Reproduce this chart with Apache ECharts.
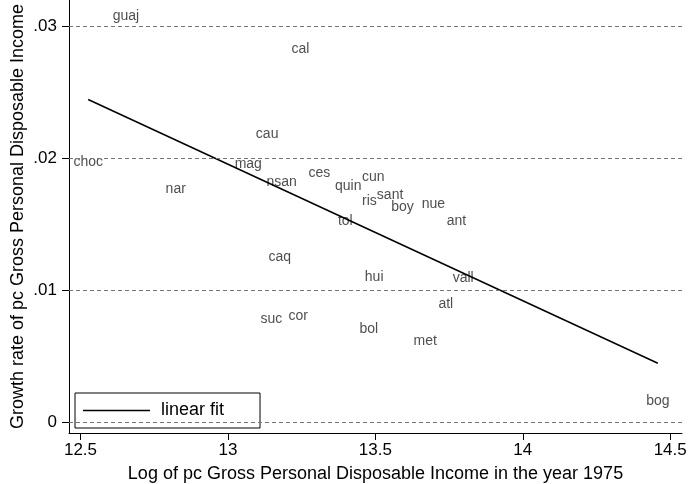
<!DOCTYPE html>
<html>
<head>
<meta charset="utf-8">
<script src="https://cdn.jsdelivr.net/npm/echarts@6/dist/echarts.min.js"></script>
<style>html,body{margin:0;padding:0;background:#fff}#c{width:691px;height:484px}</style>
</head>
<body>
<div id="c"></div>
<script>
var regions = ['guaj','cal','cau','choc','mag','nar','nsan','ces','quin','cun','ris','sant','boy','nue','ant','tol','hui','vall','atl','bol','met','caq','suc','cor','bog'];
var logIncome1975 = [12.654,13.246,13.133,12.526,13.069,12.823,13.182,13.310,13.408,13.493,13.480,13.550,13.592,13.697,13.775,13.398,13.496,13.798,13.739,13.478,13.669,13.176,13.147,13.238,14.458];
var growthRate = [0.03083,0.02836,0.02191,0.01979,0.01967,0.01774,0.01832,0.01895,0.01800,0.01870,0.01686,0.01732,0.01638,0.01663,0.01537,0.01537,0.01107,0.01099,0.00905,0.00720,0.00627,0.01259,0.00796,0.00817,0.00172];
var fitX = [12.526, 14.458];
var fitY = [0.02444, 0.00447];
var xTicks = [12.5, 13, 13.5, 14, 14.5];
var yTicks = [0, 0.01, 0.02, 0.03];
var yTickLabels = ['0', '.01', '.02', '.03'];

var FONT = 'Liberation Sans, Arial, Helvetica, sans-serif';
var chart = echarts.init(document.getElementById('c'), null, {renderer: 'canvas'});

var pts = regions.map(function (r, i) { return {name: r, value: [logIncome1975[i], growthRate[i]]}; });
var fit = fitX.map(function (x, i) { return [x, fitY[i]]; });

chart.setOption({
  backgroundColor: '#fff',
  animation: false,
  grid: {left: 69, right: 9, top: 0, bottom: 51, outerBoundsMode: 'none', containLabel: false},
  legend: {
    data: [{name: 'linear fit', icon: 'rect'}],
    left: 75, top: 393,
    orient: 'horizontal',
    borderColor: '#000', borderWidth: 1, borderRadius: 0,
    padding: [6, 36, 6, 8],
    itemWidth: 67, itemHeight: 1.5,
    itemStyle: {color: '#000'},
    textStyle: {fontFamily: FONT, fontSize: 18, color: '#000', padding: [4, 0, 0, 6], lineHeight: 19}
  },
  xAxis: {
    type: 'value', min: 12.461, max: 14.54,
    name: 'Log of pc Gross Personal Disposable Income in the year 1975',
    nameLocation: 'middle', nameGap: 32, nameMoveOverlap: false,
    nameTextStyle: {fontFamily: FONT, fontSize: 18, color: '#000'},
    axisLine: {show: true, onZero: false, lineStyle: {color: '#000', width: 1}},
    axisTick: {show: true, length: 7, lineStyle: {color: '#000'}, customValues: xTicks},
    axisLabel: {show: true, margin: 9, fontFamily: FONT, fontSize: 17, color: '#000', customValues: xTicks,
      hideOverlap: false, showMinLabel: true, showMaxLabel: true,
      formatter: function (v) { return String(v); }},
    splitLine: {show: false}
  },
  yAxis: {
    type: 'value', min: -0.00081, max: 0.03197,
    name: 'Growth rate of pc Gross Personal Disposable Income',
    nameLocation: 'middle', nameGap: 42, nameMoveOverlap: false,
    nameTextStyle: {fontFamily: FONT, fontSize: 18, color: '#000'},
    axisLine: {show: true, onZero: false, lineStyle: {color: '#000', width: 1}},
    axisTick: {show: true, length: 7, lineStyle: {color: '#000'}, customValues: yTicks},
    axisLabel: {show: true, margin: 12, fontFamily: FONT, fontSize: 17, color: '#000', customValues: yTicks,
      formatter: function (v) {
        for (var i = 0; i < yTicks.length; i++) { if (Math.abs(v - yTicks[i]) < 1e-9) return yTickLabels[i]; }
        return '';
      }},
    splitLine: {show: false}
  },
  series: [
    {
      name: 'grid', type: 'line', data: [], silent: true,
      markLine: {
        silent: true, symbol: ['none', 'none'], label: {show: false},
        lineStyle: {color: '#777', type: [4, 3], width: 1},
        data: yTicks.map(function (t) { return {yAxis: t}; })
      }
    },
    {
      name: 'regions', type: 'scatter', symbolSize: 0, data: pts,
      label: {show: true, position: 'inside', offset: [0, 1.5], formatter: '{b}', fontFamily: FONT, fontSize: 14, color: '#222'},
      z: 3
    },
    {
      name: 'linear fit', type: 'line', data: fit, symbol: 'none', showSymbol: false,
      lineStyle: {color: '#000', width: 1.5}, itemStyle: {color: '#000'}, z: 4
    }
  ]
});
</script>
</body>
</html>
